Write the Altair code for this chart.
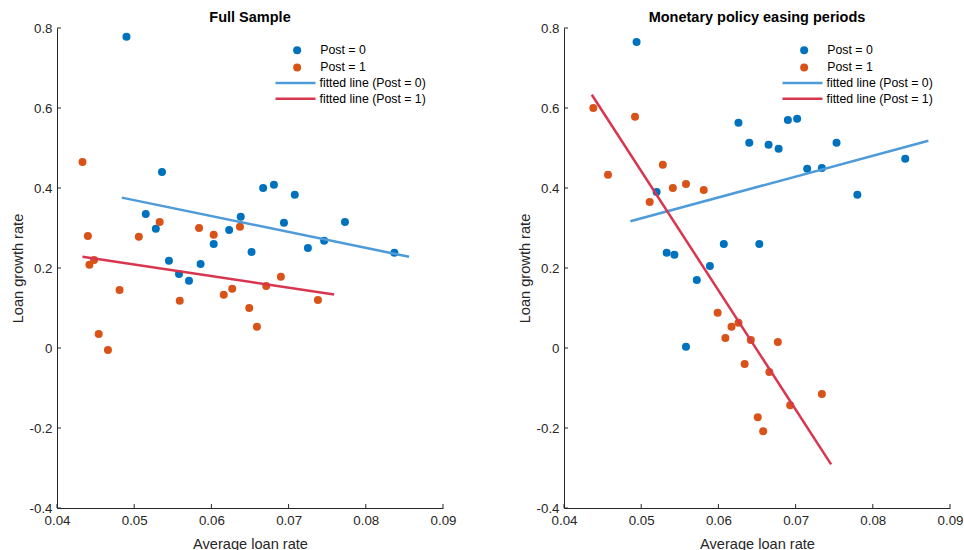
import altair as alt
import pandas as pd

# ---------------- data ----------------
x_ticks = [0.04, 0.05, 0.06, 0.07, 0.08, 0.09]
y_ticks = [-0.4, -0.2, 0, 0.2, 0.4, 0.6, 0.8]

groups = ["Post = 0", "Post = 1"]
fit_groups = ["fitted line (Post = 0)", "fitted line (Post = 1)"]

# Panel 1: Full Sample
full_x0 = [0.0490, 0.0536, 0.0515, 0.0528, 0.0545, 0.0558, 0.0571, 0.0586, 0.0603, 0.0623,
           0.0638, 0.0652, 0.0667, 0.0681, 0.0708, 0.0694, 0.0725, 0.0746, 0.0773, 0.0837]
full_y0 = [0.778, 0.440, 0.335, 0.298, 0.218, 0.185, 0.168, 0.210, 0.260, 0.295,
           0.328, 0.240, 0.400, 0.408, 0.383, 0.313, 0.250, 0.268, 0.315, 0.238]
full_x1 = [0.0433, 0.0440, 0.0442, 0.0448, 0.0454, 0.0466, 0.0481, 0.0506, 0.0533, 0.0559,
           0.0584, 0.0603, 0.0616, 0.0627, 0.0637, 0.0649, 0.0659, 0.0671, 0.0690, 0.0738]
full_y1 = [0.465, 0.280, 0.208, 0.220, 0.035, -0.005, 0.145, 0.278, 0.315, 0.118,
           0.300, 0.283, 0.133, 0.148, 0.303, 0.100, 0.053, 0.155, 0.178, 0.120]
full_fit0_x = [0.0484, 0.0856]
full_fit0_y = [0.376, 0.228]
full_fit1_x = [0.0433, 0.0759]
full_fit1_y = [0.228, 0.134]

# Panel 2: Monetary policy easing periods
ease_x0 = [0.0494, 0.0626, 0.0640, 0.0665, 0.0678, 0.0690, 0.0702, 0.0715, 0.0734, 0.0753,
           0.0842, 0.0780, 0.0520, 0.0533, 0.0543, 0.0607, 0.0653, 0.0589, 0.0572, 0.0558]
ease_y0 = [0.765, 0.563, 0.513, 0.508, 0.498, 0.570, 0.573, 0.448, 0.450, 0.513,
           0.473, 0.383, 0.390, 0.238, 0.233, 0.260, 0.260, 0.205, 0.170, 0.003]
ease_x1 = [0.0438, 0.0457, 0.0492, 0.0528, 0.0541, 0.0558, 0.0581, 0.0511, 0.0599, 0.0617,
           0.0626, 0.0609, 0.0642, 0.0677, 0.0634, 0.0666, 0.0734, 0.0693, 0.0651, 0.0658]
ease_y1 = [0.600, 0.433, 0.578, 0.458, 0.400, 0.410, 0.395, 0.365, 0.088, 0.053,
           0.063, 0.025, 0.020, 0.015, -0.040, -0.060, -0.115, -0.143, -0.173, -0.208]
ease_fit0_x = [0.0486, 0.0872]
ease_fit0_y = [0.317, 0.518]
ease_fit1_x = [0.0436, 0.0746]
ease_fit1_y = [0.633, -0.291]

# ---------------- styling ----------------
FONT = "Liberation Sans"
AX = "#262626"
PT_COLORS = ["#0072BD", "#D95319"]
LN_COLORS = ["#4D9BD9", "#D8364F"]
W, H = 386, 480


def xaxis():
    return alt.Axis(values=x_ticks, ticks=False, grid=False, labelFlush=False,
                    labelExpr="'' + datum.value", labelPadding=5,
                    title="Average loan rate", titlePadding=10)


def yaxis():
    return alt.Axis(values=y_ticks, ticks=False, grid=False, labelFlush=False,
                    labelExpr="'' + datum.value", labelPadding=5,
                    title="Loan growth rate", titlePadding=4)


def xs():
    return alt.Scale(domain=[0.04, 0.09], nice=False, zero=False)


def ys():
    return alt.Scale(domain=[-0.4, 0.8], nice=False, zero=False)


def panel(title, x0, y0, x1, y1, f0x, f0y, f1x, f1y):
    pts = pd.DataFrame({
        "x": x0 + x1,
        "y": y0 + y1,
        "grp": [groups[0]] * len(x0) + [groups[1]] * len(x1),
    })
    fits = pd.DataFrame({
        "x": f0x + f1x,
        "y": f0y + f1y,
        "grp": [fit_groups[0]] * len(f0x) + [fit_groups[1]] * len(f1x),
    })
    xt = pd.DataFrame({"x": x_ticks})
    yt = pd.DataFrame({"y": y_ticks})

    points = alt.Chart(pts).mark_circle(size=64, opacity=1).encode(
        x=alt.X("x:Q", scale=xs(), axis=xaxis()),
        y=alt.Y("y:Q", scale=ys(), axis=yaxis()),
        color=alt.Color("grp:N", scale=alt.Scale(domain=groups, range=PT_COLORS),
                        legend=alt.Legend(title=None, orient="none", legendX=234, legendY=16,
                                          symbolSize=64, symbolType="circle",
                                          labelOffset=17, rowPadding=4.3, padding=0,
                                          labelFontSize=12.3, labelFont=FONT,
                                          labelColor="#000000")),
    )
    lines = alt.Chart(fits).mark_line(strokeWidth=2.5).encode(
        x=alt.X("x:Q", scale=xs(), axis=xaxis()),
        y=alt.Y("y:Q", scale=ys(), axis=yaxis()),
        color=alt.Color("grp:N", scale=alt.Scale(domain=fit_groups, range=LN_COLORS),
                        legend=alt.Legend(title=None, orient="none", legendX=232, legendY=48.5,
                                          symbolSize=100, symbolType="M-4,0H4",
                                          symbolStrokeWidth=2.5,
                                          labelOffset=17.5, rowPadding=2.8, padding=0,
                                          labelFontSize=12.3, labelFont=FONT,
                                          labelColor="#000000")),
        detail="grp:N",
    )
    xtick = alt.Chart(xt).mark_rule(color=AX, strokeWidth=1).encode(
        x=alt.X("x:Q", scale=xs(), axis=xaxis()),
        y=alt.value(H), y2=alt.value(H - 4),
    )
    ytick = alt.Chart(yt).mark_rule(color=AX, strokeWidth=1).encode(
        y=alt.Y("y:Q", scale=ys(), axis=yaxis()),
        x=alt.value(0), x2=alt.value(4),
    )
    return alt.layer(points, lines, xtick, ytick).resolve_scale(color="independent").properties(
        width=W, height=H,
        title=alt.TitleParams(title, fontSize=14.5, fontWeight="bold", font=FONT,
                              anchor="middle", offset=-4, color="#000000"),
    )


left = panel("Full Sample", full_x0, full_y0, full_x1, full_y1,
             full_fit0_x, full_fit0_y, full_fit1_x, full_fit1_y)
right = panel("Monetary policy easing periods", ease_x0, ease_y0, ease_x1, ease_y1,
              ease_fit0_x, ease_fit0_y, ease_fit1_x, ease_fit1_y)

chart = alt.hconcat(left, right, spacing=121, bounds="flush").resolve_scale(
    x="independent", y="independent", color="independent"
).properties(
    padding={"left": 10, "top": 9, "right": 0, "bottom": 0}
).configure(font=FONT).configure_axis(
    labelFont=FONT, titleFont=FONT, labelFontSize=13.3, titleFontSize=14.6,
    labelColor=AX, titleColor=AX, domainColor=AX, domainWidth=1, titleFontWeight="normal",
).configure_view(strokeWidth=0)

chart.save("out.html", embed_options={"renderer": "svg", "actions": False})
